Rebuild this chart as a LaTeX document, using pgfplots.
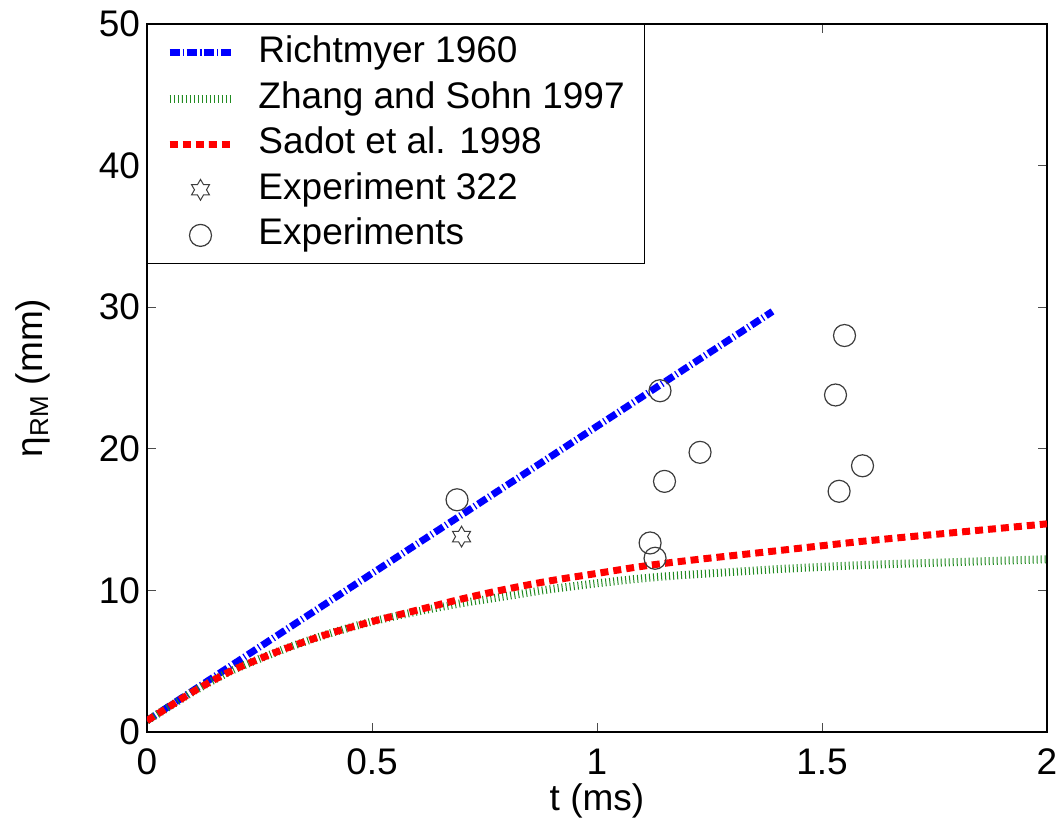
\documentclass[border=0pt]{standalone}
\usepackage{fontspec}
\setmainfont{Liberation Sans}
\usepackage{pgfplots}
\pgfplotsset{compat=1.18}

\definecolor{rmblue}{RGB}{0,0,255}
\definecolor{zsgreen}{RGB}{34,139,34}
\definecolor{sadred}{RGB}{255,0,0}
\definecolor{mkgray}{RGB}{60,60,60}

% MATLAB-style hexagram marker
\pgfdeclareplotmark{hexagram}{%
  \pgfpathmoveto{\pgfpointpolar{90}{\pgfplotmarksize}}%
  \pgfpathlineto{\pgfpointpolar{120}{0.577\pgfplotmarksize}}%
  \pgfpathlineto{\pgfpointpolar{150}{\pgfplotmarksize}}%
  \pgfpathlineto{\pgfpointpolar{180}{0.577\pgfplotmarksize}}%
  \pgfpathlineto{\pgfpointpolar{210}{\pgfplotmarksize}}%
  \pgfpathlineto{\pgfpointpolar{240}{0.577\pgfplotmarksize}}%
  \pgfpathlineto{\pgfpointpolar{270}{\pgfplotmarksize}}%
  \pgfpathlineto{\pgfpointpolar{300}{0.577\pgfplotmarksize}}%
  \pgfpathlineto{\pgfpointpolar{330}{\pgfplotmarksize}}%
  \pgfpathlineto{\pgfpointpolar{0}{0.577\pgfplotmarksize}}%
  \pgfpathlineto{\pgfpointpolar{30}{\pgfplotmarksize}}%
  \pgfpathlineto{\pgfpointpolar{60}{0.577\pgfplotmarksize}}%
  \pgfpathclose
  \pgfusepathqstroke}

\begin{document}
\begin{tikzpicture}
\begin{axis}[
  scale only axis,
  width=450pt, height=354pt,
  xmin=0, xmax=2, ymin=0, ymax=50,
  xtick={0,0.5,1,1.5,2},
  ytick={0,10,20,30,40,50},
  xticklabels={0,0.5,1,1.5,2},
  yticklabels={0,10,20,30,40,50},
  tick align=inside,
  major tick length=4.5pt,
  tick style={black!70, line width=0.5pt},
  axis line style={black, line width=0.6pt},
  font=\fontsize{18.5}{22}\selectfont,
  tick label style={font=\fontsize{18.5}{22}\selectfont},
  xticklabel style={yshift=-5pt},
  xlabel={t (ms)},
  ylabel={η\textsubscript{RM} (mm)},
  xlabel style={at={(axis description cs:0.5,-0.097)}, anchor=center},
  ylabel style={at={(axis description cs:-0.127,0.5)}, anchor=center},
  legend image code/.code={%
    \draw[mark repeat=2,mark phase=2,#1] plot coordinates {(0pt,0pt) (15.5pt,0pt) (31pt,0pt)};},
  legend style={at={(0,1)}, anchor=north west, draw=black, line width=0.5pt,
    fill=white, font=\fontsize{18.5}{22}\selectfont,
    inner xsep=9pt, inner ysep=4.5pt, row sep=3.3pt,
    nodes={inner sep=1pt, text height=13.5pt, text depth=4pt},
    /tikz/every odd column/.append style={column sep=10.5pt}},
  legend cell align=left,
]
% Richtmyer 1960 (linear)
\addplot[rmblue, line width=3.5pt, dash pattern=on 5pt off 1.5pt on 0.6pt off 1.5pt]
  coordinates {(0,0.8) (1.39,29.7)};
\addlegendentry{Richtmyer 1960}
% Zhang and Sohn 1997
\addplot[zsgreen, line width=4pt, dash pattern=on 0.5pt off 1.5pt, smooth]
  coordinates {(0,0.8) (0.05,1.8) (0.1,2.8) (0.15,3.7) (0.2,4.5) (0.3,5.8) (0.4,6.9)
   (0.5,7.8) (0.6,8.5) (0.7,9.1) (0.8,9.6) (0.9,10.1) (1.0,10.5) (1.1,10.85)
   (1.2,11.1) (1.4,11.5) (1.6,11.8) (1.8,12.0) (2.0,12.2)};
\addlegendentry{Zhang and Sohn 1997}
% Sadot et al. 1998
\addplot[sadred, line width=3.5pt, dash pattern=on 4pt off 2.5pt, smooth]
  coordinates {(0,0.8) (0.05,1.8) (0.1,2.8) (0.15,3.7) (0.2,4.5) (0.3,5.8) (0.4,6.9)
   (0.5,7.8) (0.6,8.6) (0.7,9.4) (0.8,10.1) (0.9,10.7) (1.0,11.2) (1.1,11.7)
   (1.2,12.1) (1.4,12.8) (1.6,13.5) (1.8,14.1) (2.0,14.7)};
\addlegendentry{Sadot et al. 1998}
% Experiment 322
\addplot[only marks, mark=hexagram, mark size=5.2pt, mkgray, mark options={line width=0.5pt}]
  coordinates {(0.699,13.8)};
\addlegendentry{Experiment 322}
% Experiments
\addplot[only marks, mark=o, mark size=5.5pt, mkgray, mark options={line width=0.6pt}]
  coordinates {(0.689,16.4) (1.14,24.1) (1.55,28.0) (1.53,23.8) (1.229,19.75)
   (1.150,17.7) (1.59,18.8) (1.538,17.0) (1.118,13.35) (1.129,12.27)};
\addlegendentry{Experiments}
\end{axis}
\pgfresetboundingbox
\path[use as bounding box] ([xshift=-73.5pt,yshift=-45.5pt]current axis.south west)
  rectangle ([xshift=5.5pt,yshift=12pt]current axis.north east);
\end{tikzpicture}
\end{document}
